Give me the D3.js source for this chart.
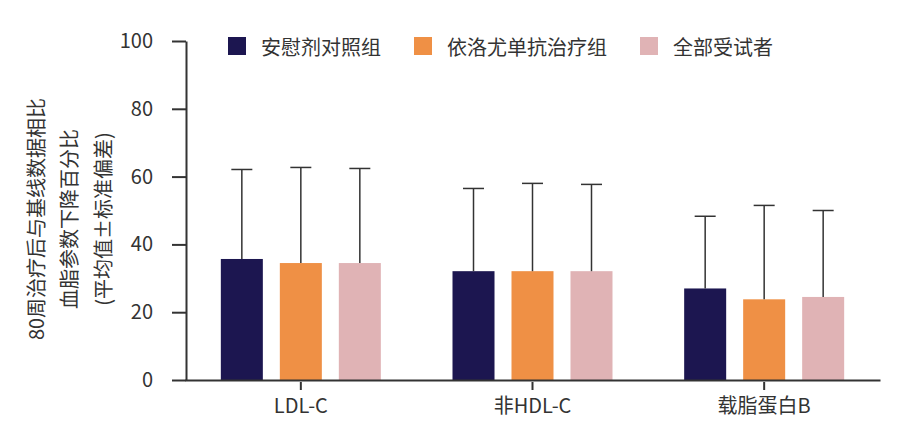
<!DOCTYPE html>
<html>
<head>
<meta charset="utf-8">
<script src="https://cdn.jsdelivr.net/npm/d3@7"></script>
<style>
  body { margin: 0; background: #fff; }
  text { font-family: "Noto Sans CJK SC", "Noto Sans", sans-serif; fill: #333; }
</style>
</head>
<body>
<div id="chart"></div>
<script>
// categories and series
var categories = ["LDL-C", "非HDL-C", "载脂蛋白B"];
var seriesNames = ["安慰剂对照组", "依洛尤单抗治疗组", "全部受试者"];
var seriesColors = ["#1c1650", "#ef9045", "#e0b3b5"];

// means (%) and standard deviations
var placeboMean = [35.7, 32.1, 27.0];
var placeboSd = [26.4, 24.4, 21.3];
var evoMean = [34.5, 32.1, 23.8];
var evoSd = [28.2, 25.9, 27.7];
var allMean = [34.5, 32.1, 24.5];
var allSd = [27.9, 25.6, 25.5];

var yTicks = [0, 20, 40, 60, 80, 100];
var yTitle = ["80周治疗后与基线数据相比", "血脂参数下降百分比", "(平均值±标准偏差)"];

var width = 900;
var height = 444;

var means = [placeboMean, evoMean, allMean];
var sds = [placeboSd, evoSd, allSd];

var data = [];
categories.forEach(function (c, i) {
    seriesNames.forEach(function (s, j) {
        data.push({ category: c, series: s, mean: means[j][i], sd: sds[j][i], color: seriesColors[j] });
    });
});

var x = d3.scaleBand()
    .domain(categories)
    .range([185, 880])
    .padding(0);

var xInner = d3.scaleBand()
    .domain(seriesNames)
    .range([-80, 80])
    .paddingInner(0.288)
    .paddingOuter(0);

var y = d3.scaleLinear()
    .domain([0, 100])
    .range([380, 41]);

const svg = d3.select("#chart").append("svg")
    .attr("width", width)
    .attr("height", height)
    .attr("viewBox", [0, 0, width, height]);

// bars
svg.append("g")
    .selectAll("rect")
    .data(data)
    .join("rect")
    .attr("x", d => x(d.category) + x.bandwidth() / 2 + xInner(d.series))
    .attr("y", d => y(d.mean))
    .attr("width", xInner.bandwidth())
    .attr("height", d => y(0) - y(d.mean))
    .attr("fill", d => d.color);

// error bars
var err = svg.append("g")
    .attr("stroke", "#333")
    .attr("stroke-width", 1.5)
    .selectAll("g")
    .data(data)
    .join("g")
    .attr("transform", d => `translate(${x(d.category) + x.bandwidth() / 2 + xInner(d.series) + xInner.bandwidth() / 2},0)`);

err.append("line")
    .attr("x1", 0).attr("x2", 0)
    .attr("y1", d => y(d.mean))
    .attr("y2", d => y(d.mean + d.sd));

err.append("line")
    .attr("x1", -10.5).attr("x2", 10.5)
    .attr("y1", d => y(d.mean + d.sd))
    .attr("y2", d => y(d.mean + d.sd));

// y axis
svg.append("g")
    .attr("transform", "translate(186,0)")
    .call(d3.axisLeft(y).tickValues(yTicks).tickSize(14).tickPadding(19).tickSizeOuter(0))
    .call(g => g.selectAll("path, line").attr("stroke", "#333").attr("stroke-width", 2))
    .call(g => g.selectAll("text").attr("font-size", 20).attr("font-family", null));

// x axis
svg.append("g")
    .attr("transform", "translate(0,380)")
    .call(d3.axisBottom(x).tickSize(10).tickPadding(9).tickSizeOuter(0))
    .call(g => g.selectAll("path, line").attr("stroke", "#333").attr("stroke-width", 2))
    .call(g => g.selectAll(".tick line").attr("y1", 2))
    .call(g => g.selectAll("text").attr("font-size", 20).attr("font-family", null));

// y title
svg.append("g")
    .selectAll("text")
    .data(yTitle)
    .join("text")
    .attr("transform", (d, i) => `translate(${35 + i * 33.5},219) rotate(-90)`)
    .attr("text-anchor", "middle")
    .attr("dominant-baseline", "central")
    .attr("font-size", 20)
    .text(d => d);

// legend
var legend = svg.append("g")
    .attr("transform", "translate(228,37)");

var lx = 0;
seriesNames.forEach(function (s, j) {
    var item = legend.append("g").attr("transform", `translate(${lx},0)`);
    item.append("rect")
        .attr("width", 18)
        .attr("height", 18)
        .attr("fill", seriesColors[j]);
    var t = item.append("text")
        .attr("x", 33)
        .attr("y", 9)
        .attr("dominant-baseline", "central")
        .attr("font-size", 20)
        .text(s);
    lx += 33 + t.node().getComputedTextLength() + 33;
});
</script>
</body>
</html>
